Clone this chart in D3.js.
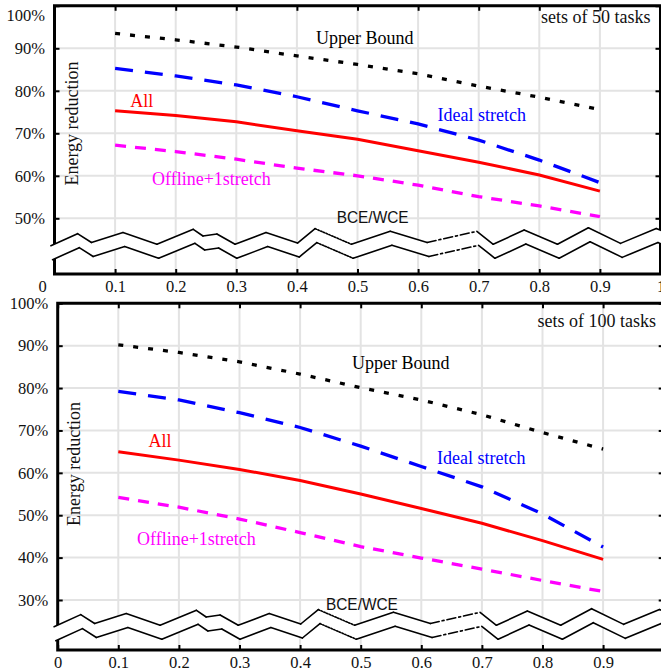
<!DOCTYPE html>
<html>
<head>
<meta charset="utf-8">
<script src="https://cdn.jsdelivr.net/npm/d3@7"></script>
<style>
body { margin: 0; background: #fff; }
svg { display: block; }
</style>
</head>
<body>
<div id="chart"></div>
<script>
const w = 661;
const h = 671;

// x axis: BCE/WCE ratio
const xValues = [0.1, 0.2, 0.3, 0.4, 0.5, 0.6, 0.7, 0.8, 0.9];
const xTicks = [0, 0.1, 0.2, 0.3, 0.4, 0.5, 0.6, 0.7, 0.8, 0.9, 1];
const xTickLabels = ["0", "0.1", "0.2", "0.3", "0.4", "0.5", "0.6", "0.7", "0.8", "0.9", "1"];

const seriesNames = ["Upper Bound", "Ideal stretch", "All", "Offline+1stretch"];

// sets of 50 tasks (energy reduction, %)
const upper50 = [93.5, 92.0, 90.3, 88.2, 86.2, 84.0, 81.1, 78.5, 75.6];
const ideal50 = [85.3, 83.5, 81.4, 78.6, 75.3, 72.2, 68.4, 63.7, 58.4];
const all50 = [75.3, 74.2, 72.7, 70.6, 68.6, 65.9, 63.2, 60.2, 56.4];
const offline50 = [67.2, 65.7, 63.9, 61.8, 60.0, 57.8, 55.1, 52.9, 50.4];
const yTicks50 = [50, 60, 70, 80, 90, 100];

// sets of 100 tasks
const upper100 = [90.2, 88.4, 86.2, 83.3, 80.1, 77.2, 73.7, 69.5, 65.6];
const ideal100 = [79.2, 77.2, 74.2, 70.7, 66.3, 61.5, 56.7, 50.3, 42.5];
const all100 = [65.0, 63.0, 60.8, 58.2, 55.0, 51.6, 48.1, 44.0, 39.6];
const offline100 = [54.2, 51.9, 49.1, 45.9, 42.6, 39.9, 37.3, 34.6, 32.0];
const yTicks100 = [30, 40, 50, 60, 70, 80, 90, 100];

// axis break zigzag (x in data units, level 0..1 of the zigzag height)
const breakX = [-0.006, 0.038, 0.061, 0.113, 0.169, 0.229, 0.245, 0.268, 0.298, 0.349, 0.401, 0.430,
                0.490, 0.554, 0.615, 0.697, 0.724, 0.775, 0.830, 0.881, 0.934, 0.993, 1.02];
const breakLevel = [0, 0.67, 0.18, 0.73, 0.08, 0.91, 0.54, 0.65, 0.08, 0.73, 0.15, 0.95,
                    0.08, 0.80, 0.18, 0.80, 0.08, 0.87, 0.08, 1.0, 0.13, 0.95, 0.6];

const seriesStyle = [
    {color: "#000000", dash: "5,10", width: 3.3},
    {color: "#0000ff", dash: "18,12", width: 3.3},
    {color: "#ff0000", dash: null, width: 3},
    {color: "#ff00ff", dash: "11,9", width: 3.3}
];
const breakDash = {11: "1.5,1.5", 14: "9,3,2,3"};

const serif = "Liberation Serif";

const panels = [
    {
        title: "sets of 50 tasks", series: [upper50, ideal50, all50, offline50], yTicks: yTicks50,
        x0: 54.5, x1: 660.5, yLow: 50, yLowPx: 218.3, yTopPx: 5.8, axisY: 274, breakAt: 43.55,
        labelPos: [[0.512, 91.1], [0.705, 72.8], [0.144, 76.3], [0.259, 57.8]],
        titlePos: [0.9835, 95.9], bcePos: [0.525, 48.9], yLabelPos: [0.038, 72.3],
        topLabelShift: 9, zeroShift: -12.5, showLast: true
    },
    {
        title: "sets of 100 tasks", series: [upper100, ideal100, all100, offline100], yTicks: yTicks100,
        x0: 57.7, x1: 663.7, yLow: 30, yLowPx: 600, yTopPx: 303.3, axisY: 650, breakAt: 23.7,
        labelPos: [[0.566, 84.6], [0.699, 62.1], [0.169, 66.0], [0.229, 43.0]],
        titlePos: [0.9873, 94.4], bcePos: [0.502, 27.6], yLabelPos: [0.0376, 62.1],
        topLabelShift: 0, zeroShift: 0, showLast: false
    }
];

const svg = d3.select("#chart")
    .append("svg")
    .attr("width", w)
    .attr("height", h);

panels.forEach(p => drawPanel(p));

function drawPanel(p) {
    const x = d3.scaleLinear().domain([0, 1]).range([p.x0, p.x1]);
    const y = d3.scaleLinear().domain([p.yLow, 100]).range([p.yLowPx, p.yTopPx]);
    const g = svg.append("g");

    // grid
    g.selectAll(".vgrid").data(xValues).enter().append("line")
        .attr("x1", d => x(d)).attr("x2", d => x(d))
        .attr("y1", y(100)).attr("y2", p.axisY)
        .attr("stroke", "#e3e3e3").attr("stroke-width", 2);
    g.selectAll(".hgrid").data(p.yTicks).enter().append("line")
        .attr("x1", p.x0).attr("x2", p.x1)
        .attr("y1", d => y(d)).attr("y2", d => y(d))
        .attr("stroke", "#e3e3e3").attr("stroke-width", 2);

    // axes
    const xAxis = d3.axisBottom(x).tickValues(xTicks)
        .tickSizeInner(-5).tickSizeOuter(0).tickPadding(6)
        .tickFormat((d, i) => (i === xTicks.length - 1 && !p.showLast) ? "" : xTickLabels[i]);
    const xAxisTop = d3.axisTop(x).tickValues(xTicks)
        .tickSizeInner(-5).tickSizeOuter(0).tickFormat("");
    const yAxis = d3.axisLeft(y).tickValues(p.yTicks)
        .tickSizeInner(-5).tickSizeOuter(0).tickPadding(9.5)
        .tickFormat(d => d + "%");
    const yAxisRight = d3.axisRight(y).tickValues(p.yTicks)
        .tickSizeInner(-5).tickSizeOuter(0).tickFormat("");

    const gx = g.append("g").attr("transform", "translate(0," + p.axisY + ")").call(xAxis);
    const gxt = g.append("g").attr("transform", "translate(0," + y(100) + ")").call(xAxisTop);
    const gy = g.append("g").attr("transform", "translate(" + p.x0 + ",0)").call(yAxis);
    const gyr = g.append("g").attr("transform", "translate(" + p.x1 + ",0)").call(yAxisRight);

    [gx, gxt, gy, gyr].forEach(a => {
        a.attr("font-family", serif).attr("font-size", 16.5);
        a.select(".domain").remove();
        a.selectAll(".tick line").attr("stroke", "#000").attr("stroke-width", 2);
        a.selectAll("text").attr("fill", "#111");
    });
    gy.selectAll(".tick text").filter(d => d === 100)
        .attr("dy", (0.32 * 16.5 + p.topLabelShift) + "px");
    gx.selectAll(".tick text").filter(d => d === 0)
        .attr("dx", p.zeroShift);

    // frame
    g.append("path")
        .attr("d", "M" + p.x0 + "," + p.axisY + "V" + y(100) + "H" + p.x1 + "V" + p.axisY + "Z")
        .attr("fill", "none").attr("stroke", "#000").attr("stroke-width", 3);

    // series
    const line = d3.line()
        .x((d, i) => x(xValues[i]))
        .y(d => y(d));
    p.series.forEach((s, k) => {
        g.append("path")
            .datum(s)
            .attr("d", line)
            .attr("fill", "none")
            .attr("stroke", seriesStyle[k].color)
            .attr("stroke-width", seriesStyle[k].width)
            .attr("stroke-dasharray", seriesStyle[k].dash);
        g.append("text")
            .attr("x", x(p.labelPos[k][0]))
            .attr("y", y(p.labelPos[k][1]))
            .attr("text-anchor", "middle")
            .attr("font-family", serif)
            .attr("font-size", 18)
            .attr("fill", seriesStyle[k].color)
            .text(seriesNames[k]);
    });

    g.append("text")
        .attr("x", x(p.titlePos[0]))
        .attr("y", y(p.titlePos[1]))
        .attr("text-anchor", "end")
        .attr("font-family", serif)
        .attr("font-size", 18)
        .attr("fill", "#111")
        .text(p.title);

    g.append("text")
        .attr("transform", "translate(" + x(p.yLabelPos[0]) + "," + y(p.yLabelPos[1]) + ") rotate(-90)")
        .attr("text-anchor", "middle")
        .attr("font-family", serif)
        .attr("font-size", 18)
        .attr("fill", "#111")
        .text("Energy reduction");

    g.append("text")
        .attr("x", x(p.bcePos[0]))
        .attr("y", y(p.bcePos[1]))
        .attr("text-anchor", "middle")
        .attr("font-family", "Liberation Sans")
        .attr("font-size", 17)
        .attr("textLength", 72)
        .attr("lengthAdjust", "spacingAndGlyphs")
        .attr("fill", "#111")
        .text("BCE/WCE");

    // axis break
    const base = y(p.breakAt);
    const upper = breakX.map((d, i) => [x(d), base - breakLevel[i] * 18]);
    const lower = upper.map(pt => [pt[0] + 1.7, pt[1] + 14]);
    g.append("path")
        .attr("d", "M" + upper.join("L") + "L" + lower.slice().reverse().join("L") + "Z")
        .attr("fill", "#fff").attr("stroke", "none");
    [upper, lower].forEach(pts => {
        for (let i = 0; i < pts.length - 1; i++) {
            g.append("line")
                .attr("x1", pts[i][0]).attr("y1", pts[i][1])
                .attr("x2", pts[i + 1][0]).attr("y2", pts[i + 1][1])
                .attr("stroke", "#000").attr("stroke-width", 1.6)
                .attr("stroke-linecap", "round")
                .attr("stroke-dasharray", breakDash[i] || null);
        }
    });
}
</script>
</body>
</html>
